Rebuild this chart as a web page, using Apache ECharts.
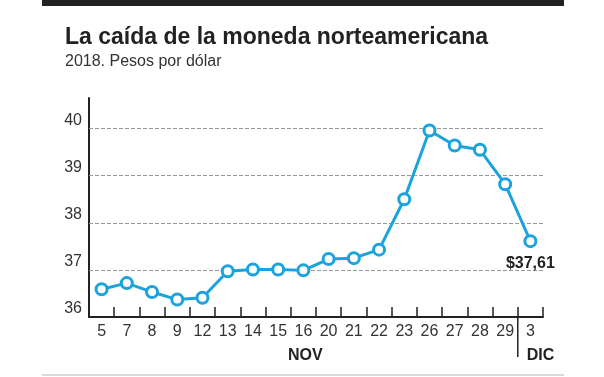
<!DOCTYPE html>
<html>
<head>
<meta charset="utf-8">
<script src="https://cdn.jsdelivr.net/npm/echarts@6/dist/echarts.min.js"></script>
<style>
  html, body { margin: 0; padding: 0; background: #fff; }
  #chart { width: 604px; height: 377px; }
</style>
</head>
<body>
<div id="chart"></div>
<script>
// dias de cotizacion (nov 2018 + 3 dic)
const dias = ['5', '7', '8', '9', '12', '13', '14', '15', '16', '20', '21', '22', '23', '26', '27', '28', '29', '3'];
const pesos = [36.59, 36.72, 36.53, 36.37, 36.41, 36.97, 37.01, 37.01, 36.99, 37.23, 37.25, 37.43, 38.50, 39.96, 39.64, 39.55, 38.82, 37.61];
const lineasGuia = [37, 38, 39, 40];
const ultimoTexto = '$37,61';

const azul = '#1ca3dd';
const fuente = '"Liberation Sans", Arial, sans-serif';

let myChart = echarts.init(document.getElementById('chart'));

const serieDatos = pesos.map(function (v, i) {
    if (i === pesos.length - 1) {
        return {
            value: v,
            label: {
                show: true,
                position: 'bottom',
                distance: 7,
                formatter: ultimoTexto,
                fontFamily: fuente,
                fontWeight: 'bold',
                fontSize: 16,
                color: '#222'
            }
        };
    }
    return v;
});

myChart.setOption({
    animation: false,
    textStyle: { fontFamily: fuente },
    title: {
        text: 'La caída de la moneda norteamericana',
        subtext: '2018. Pesos por dólar',
        left: 60,
        top: 21,
        itemGap: 5,
        textStyle: { fontFamily: fuente, fontWeight: 'bold', fontSize: 23, color: '#222' },
        subtextStyle: { fontFamily: fuente, fontSize: 16, color: '#333' }
    },
    grid: { left: 89, right: 61, top: 98, bottom: 60 },
    xAxis: {
        type: 'category',
        data: dias,
        boundaryGap: true,
        axisLine: { lineStyle: { color: '#222', width: 2 } },
        axisTick: { show: true, inside: true, length: 10, lineStyle: { color: '#222', width: 1.5 } },
        axisLabel: { fontSize: 16, color: '#333', margin: 7, interval: 0 },
        splitLine: { show: false }
    },
    yAxis: {
        type: 'value',
        min: 36,
        max: 40.65,
        interval: 1,
        axisLine: { show: true, lineStyle: { color: '#222', width: 2 } },
        axisTick: { show: false },
        axisLabel: { fontSize: 16, color: '#333', margin: 7, showMaxLabel: false, verticalAlign: 'bottom' },
        splitLine: { show: false }
    },
    series: [{
        type: 'line',
        data: serieDatos,
        symbol: 'circle',
        symbolSize: 11,
        itemStyle: { color: '#fff', borderColor: azul, borderWidth: 3 },
        lineStyle: { color: azul, width: 3 },
        z: 5,
        markLine: {
            silent: true,
            symbol: 'none',
            label: { show: false },
            lineStyle: { color: '#999', type: 'dashed', width: 1 },
            data: lineasGuia.map(function (g) { return { yAxis: g }; }),
            z: 1
        }
    }]
});

// separador de meses y etiquetas NOV / DIC
const x29 = myChart.convertToPixel({ xAxisIndex: 0 }, '29');
const x3 = myChart.convertToPixel({ xAxisIndex: 0 }, '3');
const x5 = myChart.convertToPixel({ xAxisIndex: 0 }, '5');
const yBase = myChart.convertToPixel({ yAxisIndex: 0 }, 36);
const corte = (x29 + x3) / 2;

myChart.setOption({
    graphic: [
        { type: 'rect', shape: { x: 42, y: 0, width: 522, height: 6 }, style: { fill: '#222' } },
        { type: 'line', shape: { x1: corte, y1: yBase, x2: corte, y2: yBase + 40 }, style: { stroke: '#222', lineWidth: 1.5 } },
        { type: 'text', x: (x5 + x29) / 2 + 2, y: yBase + 39, style: { text: 'NOV', font: 'bold 16px ' + fuente, fill: '#222', textAlign: 'center', textVerticalAlign: 'middle' } },
        { type: 'text', x: corte + 9, y: yBase + 39, style: { text: 'DIC', font: 'bold 16px ' + fuente, fill: '#222', textAlign: 'left', textVerticalAlign: 'middle' } },
        { type: 'line', shape: { x1: 42, y1: 375, x2: 564, y2: 375 }, style: { stroke: '#ccc', lineWidth: 1.5 } }
    ]
});
</script>
</body>
</html>
